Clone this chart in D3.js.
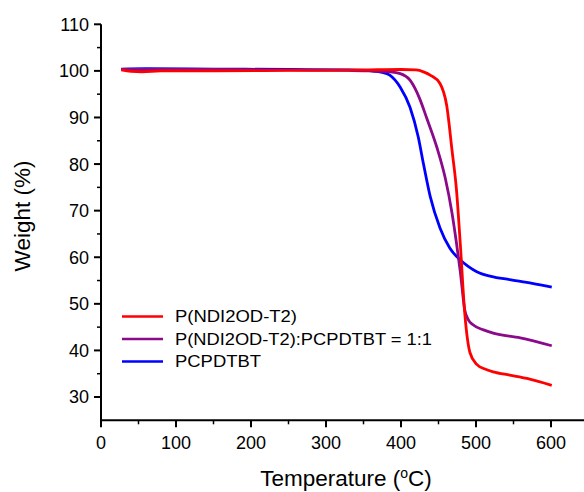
<!DOCTYPE html>
<html>
<head>
<meta charset="utf-8">
<script src="https://cdn.jsdelivr.net/npm/d3@7"></script>
<style>
  body { margin: 0; background: #fff; }
  text { font-family: Arial, "Liberation Sans", sans-serif; fill: #000; }
</style>
</head>
<body>
<div id="chart"></div>
<script>
// series names and colours
const seriesNames = ["P(NDI2OD-T2)", "P(NDI2OD-T2):PCPDTBT = 1:1", "PCPDTBT"];
const seriesColors = ["#ff0000", "#8b0a8b", "#0000ff"];

// temperature (°C) / weight (%)
const redT = [27, 40, 55, 80, 150, 250, 350, 400, 420, 430, 440, 452, 461, 468, 474, 479, 485, 492, 501, 512, 523, 545, 568, 601];
const redW = [100.2, 99.9, 99.8, 100.0, 100.0, 100.1, 100.2, 100.3, 100.2, 99.8, 99.0, 97.3, 92.5, 83.0, 74.4, 63.0, 48.0, 39.5, 37.0, 36.0, 35.4, 34.7, 34.0, 32.5];

const purpleT = [27, 60, 150, 250, 330, 360, 385, 399, 412, 425, 434, 448, 459, 468, 474, 479, 485, 490, 496, 510, 523, 559, 601];
const purpleW = [100.3, 100.3, 100.3, 100.2, 100.1, 100.0, 99.8, 99.4, 98.0, 94.0, 90.0, 83.5, 77.0, 69.5, 63.0, 57.0, 48.7, 46.5, 45.5, 44.4, 43.7, 42.7, 41.0];

const blueT = [27, 60, 150, 250, 330, 360, 375, 385, 399, 412, 423, 430, 439, 452, 465, 479, 490, 501, 520, 545, 575, 601];
const blueW = [100.4, 100.5, 100.4, 100.3, 100.2, 100.0, 99.7, 99.1, 96.5, 92.2, 85.8, 80.0, 73.0, 66.3, 62.0, 59.4, 58.0, 56.9, 55.9, 55.2, 54.4, 53.6];

const xTicks = [0, 100, 200, 300, 400, 500, 600];
const yTicks = [30, 40, 50, 60, 70, 80, 90, 100, 110];

const width = 584, height = 492;
const svg = d3.select("#chart").append("svg")
    .attr("width", width)
    .attr("height", height);

const x = d3.scaleLinear().domain([0, 650]).range([101, 588.5]);
const y = d3.scaleLinear().domain([25, 110]).range([420.3, 24.3]);

// x axis (major + minor ticks)
const xAxis = svg.append("g").attr("transform", `translate(0,${y(25)})`);
xAxis.append("line")
    .attr("x1", x(0) - 1).attr("x2", width)
    .attr("stroke", "#000").attr("stroke-width", 2);
xAxis.selectAll(".minor").data(d3.range(50, 650, 100)).enter().append("line")
    .attr("x1", d => x(d)).attr("x2", d => x(d))
    .attr("y1", 0).attr("y2", 4)
    .attr("stroke", "#000").attr("stroke-width", 1.5);
xAxis.selectAll(".major").data(xTicks).enter().append("line")
    .attr("x1", d => x(d)).attr("x2", d => x(d))
    .attr("y1", 0).attr("y2", 7)
    .attr("stroke", "#000").attr("stroke-width", 2);
xAxis.selectAll(".lbl").data(xTicks).enter().append("text")
    .attr("x", d => x(d)).attr("y", 29)
    .attr("text-anchor", "middle")
    .style("font-size", "18px")
    .text(d => d);

// y axis
const yAxis = svg.append("g").attr("transform", `translate(${x(0)},0)`);
yAxis.append("line")
    .attr("y1", y(110)).attr("y2", y(25) + 1)
    .attr("stroke", "#000").attr("stroke-width", 2);
yAxis.selectAll(".minor").data(d3.range(35, 110, 10)).enter().append("line")
    .attr("y1", d => y(d)).attr("y2", d => y(d))
    .attr("x1", 0).attr("x2", -4)
    .attr("stroke", "#000").attr("stroke-width", 1.5);
yAxis.selectAll(".major").data(yTicks).enter().append("line")
    .attr("y1", d => y(d)).attr("y2", d => y(d))
    .attr("x1", 0).attr("x2", -7)
    .attr("stroke", "#000").attr("stroke-width", 2);
yAxis.selectAll(".lbl").data(yTicks).enter().append("text")
    .attr("x", -12).attr("y", d => y(d))
    .attr("dy", "0.36em")
    .attr("text-anchor", "end")
    .style("font-size", "18px")
    .text(d => d);

// axis titles
const xt = svg.append("text")
    .attr("x", 346).attr("y", 486)
    .attr("text-anchor", "middle")
    .style("font-size", "22.5px");
xt.append("tspan").text("Temperature (");
xt.append("tspan").attr("dy", -8).style("font-size", "14px").text("o");
xt.append("tspan").attr("dy", 8).text("C)");

svg.append("text")
    .attr("transform", "translate(30,216) rotate(-90)")
    .attr("text-anchor", "middle")
    .style("font-size", "22.5px")
    .text("Weight (%)");

// curves
const line = d3.line()
    .x(d => x(d[0]))
    .y(d => y(d[1]))
    .curve(d3.curveMonotoneX);

const series = [
    d3.zip(redT, redW),
    d3.zip(purpleT, purpleW),
    d3.zip(blueT, blueW)
];

// draw blue, then purple, then red on top
[2, 1, 0].forEach(i => {
    svg.append("path")
        .datum(series[i])
        .attr("d", line)
        .attr("fill", "none")
        .attr("stroke", seriesColors[i])
        .attr("stroke-width", 2.8);
});

// legend
const legendLens = [122, 257, 86];
const legend = svg.append("g");
seriesNames.forEach((name, i) => {
    const ly = 316.5 + i * 22.5;
    legend.append("line")
        .attr("x1", 122).attr("x2", 163)
        .attr("y1", ly).attr("y2", ly)
        .attr("stroke", seriesColors[i])
        .attr("stroke-width", 2.6);
    legend.append("text")
        .attr("x", 175).attr("y", ly)
        .attr("dy", "0.36em")
        .attr("textLength", legendLens[i])
        .attr("lengthAdjust", "spacingAndGlyphs")
        .style("font-size", "16px")
        .text(name);
});
</script>
</body>
</html>
